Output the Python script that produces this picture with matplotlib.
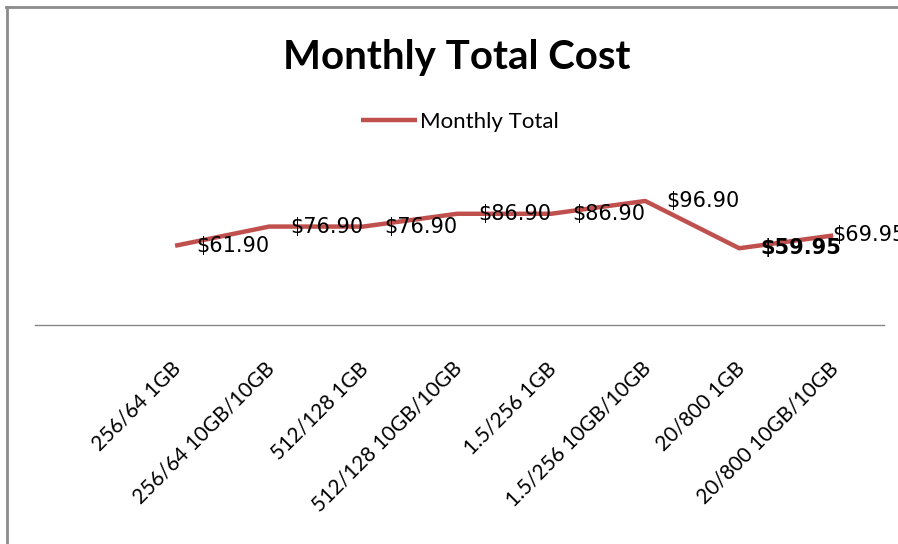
import matplotlib as mpl
mpl.use('Agg')
import matplotlib.pyplot as plt
from matplotlib.lines import Line2D
from matplotlib.transforms import ScaledTranslation

categories = ['256/64 1GB', '256/64 10GB/10GB', '512/128 1GB', '512/128 10GB/10GB',
              '1.5/256 1GB', '1.5/256 10GB/10GB', '20/800 1GB', '20/800 10GB/10GB']
monthly_total = [61.90, 76.90, 76.90, 86.90, 86.90, 96.90, 59.95, 69.95]
bold_labels = [False, False, False, False, False, False, True, False]

red = '#C0504D'
W, H = 898, 544

fig = plt.figure(figsize=(W / 100, H / 100), dpi=100)
ax = fig.add_axes([35 / W, 1 - 325 / H, (884 - 35) / W, (325 - 165) / H])

x = list(range(len(categories)))
ax.plot(x, monthly_total, color=red, lw=3.2, solid_capstyle='butt', label='Monthly Total')

# data labels sit to the right of each point
for i, v in enumerate(monthly_total):
    dx = 15 if i < len(monthly_total) - 1 else -1
    ax.annotate('$%.2f' % v, (i, v), xytext=(dx, 0), textcoords='offset points',
                ha='left', va='center', fontsize=15, family='DejaVu Sans',
                fontweight='bold' if bold_labels[i] else 'normal', color='black',
                annotation_clip=False)

ax.set_xlim(-1.49, 7.54)
ax.set_ylim(0, 125)
ax.set_yticks([])
for s in ['top', 'right', 'left']:
    ax.spines[s].set_visible(False)
ax.spines['bottom'].set_color('#868686')
ax.spines['bottom'].set_linewidth(1)

ax.set_xticks(x)
ax.set_xticklabels(categories, rotation=45, ha='right', va='top', rotation_mode='anchor',
                   fontsize=15, family='Lato')
ax.tick_params(axis='x', length=0, pad=24)
for lab in ax.get_xticklabels():
    lab.set_transform(lab.get_transform() + ScaledTranslation(-5 / 100, 0, fig.dpi_scale_trans))

fig.text(457 / W, 1 - 57 / H, 'Monthly Total Cost', ha='center', va='center',
         fontsize=29, fontweight='bold', family='Lato')

fig.legend(loc='center', bbox_to_anchor=(460 / W, 1 - 122 / H), frameon=False,
           prop={'family': 'Lato', 'size': 16}, handlelength=2.5, handletextpad=0.15)

# outer chart border (gray, left and top only visible)
fig.add_artist(Line2D([7 / W, 7 / W], [0, 1 - 7 / H], transform=fig.transFigure,
                      color='#8C8C8C', lw=2))
fig.add_artist(Line2D([6 / W, 1], [1 - 7 / H, 1 - 7 / H], transform=fig.transFigure,
                      color='#8C8C8C', lw=2))

fig.savefig('out.png', dpi=100)
plt.close()
